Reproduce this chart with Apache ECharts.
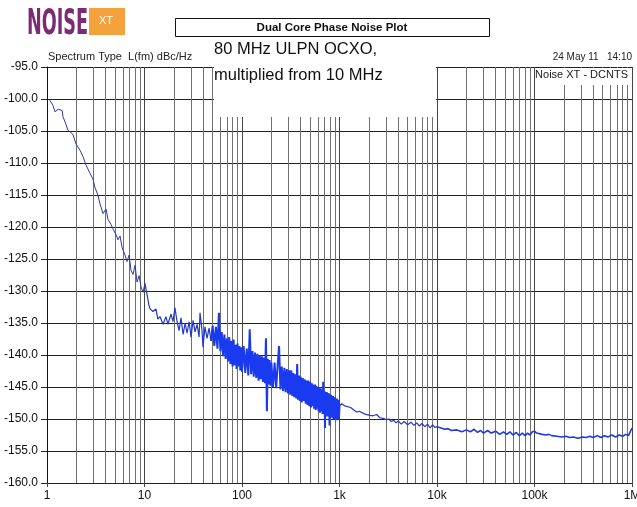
<!DOCTYPE html>
<html>
<head>
<meta charset="utf-8">
<script src="https://cdn.jsdelivr.net/npm/echarts@6/dist/echarts.min.js"></script>
<style>
  html, body { margin: 0; padding: 0; background: #fff; }
  #chart { width: 637px; height: 507px; }
</style>
</head>
<body>
<div id="chart"></div>
<script>
// tick labels
const xTickLabels = ['1', '10', '100', '1k', '10k', '100k', '1M'];
const yMin = -160, yMax = -95, yStep = 5;

// trace, [offset Hz, dBc/Hz]
const trace1to10 = [
  [1.07, -100.2], [1.15, -101.0], [1.21, -102.0], [1.30, -101.6], [1.36, -101.3],
  [1.43, -101.8], [1.46, -102.8], [1.57, -104.0], [1.64, -104.9], [1.76, -105.2],
  [1.85, -105.6], [1.98, -107.0], [2.18, -108.0], [2.34, -109.0], [2.51, -110.3],
  [2.76, -111.6], [2.96, -112.5], [3.10, -113.8], [3.33, -115.0], [3.50, -116.4],
  [3.75, -117.9], [4.03, -117.2], [4.22, -118.8], [4.53, -119.6], [4.75, -120.3],
  [5.10, -121.2], [5.35, -122.0], [5.61, -121.4], [5.89, -123.2], [6.32, -124.4],
  [6.62, -125.4], [6.94, -124.4], [7.28, -126.8], [7.63, -127.4], [8.00, -126.0],
  [8.39, -128.6], [8.80, -127.6], [9.23, -129.4], [9.68, -130.2], [10.1, -128.8]
];
const trace10to50 = [
  [10.6, -130.5], [11.1, -132.2], [11.4, -132.8], [12.2, -133.2], [13.1, -132.8],
  [13.7, -134.4], [14.4, -134.0], [15.5, -135.2], [16.6, -134.0], [17.4, -135.2],
  [18.7, -133.6], [19.6, -134.8], [20.5, -132.6], [21.6, -134.8], [22.6, -136.2],
  [23.7, -134.2], [24.9, -136.8], [26.1, -135.0], [27.3, -136.6], [28.7, -134.8],
  [30.0, -137.2], [31.5, -134.6], [33.0, -136.4], [34.6, -135.2], [36.3, -137.2],
  [37.1, -133.4], [38.9, -136.2], [39.8, -138.8], [41.7, -135.6], [43.8, -137.4],
  [45.9, -135.8], [48.1, -137.8]
];
const trace50to1k = [
  [50, -135.4], [52, -138.6], [54, -135.6], [56, -139.0], [58, -133.4], [60, -139.4],
  [62, -136.4], [64, -140.2], [66, -136.8], [68, -140.6], [70, -137.4], [72, -141.0],
  [74, -137.2], [76, -141.4], [78, -137.8], [80, -141.8], [82, -137.6], [84, -141.6],
  [86, -138.4], [88, -142.2], [90, -138.2], [92, -141.8], [94, -138.6], [96, -142.4],
  [98, -138.8],
  [100, -142.6], [104, -138.6], [108, -142.8], [112, -139.0], [116, -143.2], [120, -136.0],
  [124, -143.0], [128, -139.4], [132, -143.4], [136, -139.6], [140, -143.6], [144, -139.8],
  [148, -144.0], [152, -140.0], [156, -143.8], [160, -140.2], [164, -144.2], [168, -140.4],
  [172, -144.4], [176, -137.4], [180, -148.8], [184, -140.6], [188, -144.6], [192, -140.8],
  [196, -144.8],
  [200, -141.2], [208, -145.0], [216, -141.2], [224, -145.2], [232, -141.6], [240, -138.6],
  [248, -145.4], [256, -141.8], [264, -145.6], [272, -142.0], [280, -145.8], [288, -142.2],
  [296, -146.0], [304, -142.4], [312, -146.2], [320, -142.4], [328, -146.4], [336, -142.8],
  [344, -146.6], [352, -143.0], [360, -146.8], [368, -141.4], [376, -147.0], [384, -143.2],
  [392, -147.2],
  [400, -143.4], [410, -147.4], [420, -143.6], [430, -147.2], [440, -143.8], [450, -147.6],
  [460, -144.0], [470, -147.8], [480, -144.0], [490, -148.0], [500, -144.2], [510, -148.2],
  [520, -144.4], [530, -148.0], [540, -144.6], [550, -148.4], [560, -144.6], [570, -148.6],
  [580, -144.8], [590, -148.4], [600, -145.0], [610, -148.8], [620, -145.0], [630, -149.0],
  [640, -145.2], [650, -148.8], [660, -145.4], [670, -149.2], [680, -144.2], [690, -149.2],
  [700, -145.6], [710, -151.4], [720, -145.8], [730, -149.4], [740, -145.8], [750, -149.6],
  [760, -146.0], [770, -149.4], [780, -146.0], [790, -151.0], [800, -146.2], [810, -149.6],
  [820, -146.2], [830, -149.8], [840, -146.4], [850, -149.8], [860, -146.4], [870, -150.0],
  [880, -146.6], [890, -149.8], [900, -146.6], [910, -150.0], [920, -146.8], [930, -150.2],
  [940, -146.8], [950, -149.8], [960, -147.0], [970, -150.0], [980, -147.0], [990, -149.6],
  [1000, -148.0]
];
const trace1kto10k = [
  [1050, -147.6], [1100, -147.9], [1150, -148.0], [1200, -148.3], [1300, -148.2],
  [1400, -148.6], [1500, -148.9], [1600, -148.8], [1800, -149.2], [2000, -149.4],
  [2200, -149.5], [2400, -149.3], [2600, -149.8], [2800, -149.9], [3000, -150.1],
  [3200, -150.0], [3400, -150.4], [3600, -150.2], [3800, -150.6], [4000, -150.3],
  [4300, -150.8], [4600, -150.4], [5000, -150.9], [5400, -150.5], [5800, -151.0],
  [6200, -150.6], [6600, -151.1], [7000, -150.7], [7500, -151.2], [8000, -150.8],
  [8500, -151.4], [9000, -150.9], [9500, -151.3], [10000, -151.2]
];
const trace10kto1M = [
  [11000, -151.4], [12000, -151.6], [13000, -151.5], [14000, -151.8], [16000, -151.7],
  [18000, -152.0], [20000, -151.7], [22000, -152.0], [24000, -151.6], [26000, -152.1],
  [28000, -151.8], [30000, -152.2], [33000, -151.8], [36000, -152.2], [40000, -151.9],
  [44000, -152.4], [48000, -152.0], [52000, -152.4], [56000, -152.0], [60000, -152.5],
  [65000, -152.1], [70000, -152.6], [75000, -152.2], [80000, -152.6], [85000, -152.2],
  [90000, -152.5], [95000, -152.0], [100000, -151.9], [105000, -152.2],
  [110000, -152.3], [120000, -152.4], [130000, -152.5], [140000, -152.4], [150000, -152.6],
  [170000, -152.7], [190000, -152.8], [210000, -152.7], [230000, -152.9], [250000, -152.8],
  [280000, -153.0], [310000, -152.8], [340000, -152.9], [370000, -152.7], [400000, -152.9],
  [440000, -152.6], [480000, -152.9], [520000, -152.6], [570000, -152.8], [620000, -152.5],
  [680000, -152.8], [740000, -152.5], [800000, -152.7], [860000, -152.4], [920000, -152.6],
  [960000, -152.3], [1000000, -151.4]
];

const chart = echarts.init(document.getElementById('chart'));

const labelFont = 'Liberation Sans';

// one line piece per segment, each joined to the end of the previous one
function piece(prev, seg, width, color) {
  return {
    type: 'line',
    data: prev ? [prev[prev.length - 1]].concat(seg) : seg,
    showSymbol: false,
    symbol: 'none',
    z: 3,
    lineStyle: { color: color, width: width }
  };
}

const option = {
  animation: false,
  backgroundColor: '#fff',
  grid: { left: 47, right: 5, top: 67, bottom: 24, containLabel: false, outerBoundsMode: 'none' },
  xAxis: {
    type: 'log',
    logBase: 10,
    min: 1,
    max: 1e6,
    splitNumber: 6,
    axisLine: { show: true, onZero: false, lineStyle: { color: '#222', width: 1 } },
    axisTick: { show: true, length: 4, lineStyle: { color: '#444' } },
    axisLabel: {
      margin: 7,
      color: '#111',
      fontFamily: labelFont,
      fontSize: 12,
      formatter: function (v) {
        return xTickLabels[Math.round(Math.log10(v))];
      }
    },
    splitLine: { show: true, lineStyle: { color: '#444', width: 1 } },
    minorTick: { show: false, splitNumber: 9 },
    minorSplitLine: { show: true, lineStyle: { color: '#707070', width: 1 } }
  },
  yAxis: {
    type: 'value',
    min: yMin,
    max: yMax,
    interval: yStep,
    axisLine: { show: true, onZero: false, lineStyle: { color: '#111', width: 1 } },
    axisTick: { show: true, length: 6, lineStyle: { color: '#222' } },
    axisLabel: {
      margin: 9,
      color: '#111',
      fontFamily: labelFont,
      fontSize: 12,
      formatter: function (v) { return v.toFixed(1); }
    },
    splitLine: { show: true, lineStyle: { color: '#222', width: 1 } }
  },
  series: [
    piece(null, trace1to10, 1, '#2b3a9e'),
    piece(trace1to10, trace10to50, 1.2, '#2238c8'),
    piece(trace10to50, trace50to1k, 2, '#1a3af0'),
    piece(trace50to1k, trace1kto10k, 1.2, '#2238c8'),
    piece(trace1kto10k, trace10kto1M, 1.6, '#1f3ade')
  ],
  graphic: [
    // white boxes that hide the grid behind the notes
    { type: 'rect', z: 50, shape: { x: 214, y: 38, width: 222, height: 79 }, style: { fill: '#fff' } },
    { type: 'rect', z: 50, shape: { x: 536, y: 68, width: 95, height: 17 }, style: { fill: '#fff' } },
    // logo
    {
      type: 'text', z: 60, x: 27, y: 7, scaleX: 0.49,
      style: { text: 'NOISE', font: 'bold 36px "DejaVu Sans"', fill: '#7c2a72', textAlign: 'left', textVerticalAlign: 'top' }
    },
    { type: 'rect', z: 60, shape: { x: 89, y: 8, width: 36, height: 27 }, style: { fill: '#f3a23c' } },
    {
      type: 'text', z: 61, x: 99, y: 15,
      style: { text: 'XT', font: '11px "Liberation Sans"', fill: '#fff', textAlign: 'left', textVerticalAlign: 'top' }
    },
    // title box
    { type: 'rect', z: 60, shape: { x: 175.5, y: 18.5, width: 314, height: 18 }, style: { fill: '#fff', stroke: '#111', lineWidth: 1 } },
    {
      type: 'text', z: 61, x: 332, y: 28,
      style: { text: 'Dual Core Phase Noise Plot', font: 'bold 11.5px "Liberation Sans"', fill: '#111', textAlign: 'center', textVerticalAlign: 'middle' }
    },
    {
      type: 'text', z: 60, x: 48, y: 57,
      style: { text: 'Spectrum Type  L(fm) dBc/Hz', font: '11px "Liberation Sans"', fill: '#222', textAlign: 'left', textVerticalAlign: 'middle' }
    },
    {
      type: 'text', z: 60, x: 632, y: 57,
      style: { text: '24 May 11   14:10', font: '10px "Liberation Sans"', fill: '#222', textAlign: 'right', textVerticalAlign: 'middle' }
    },
    {
      type: 'text', z: 60, x: 214, y: 49,
      style: { text: '80 MHz ULPN OCXO,', font: '16.5px "Liberation Sans"', fill: '#111', textAlign: 'left', textVerticalAlign: 'middle' }
    },
    {
      type: 'text', z: 60, x: 214, y: 75,
      style: { text: 'multiplied from 10 MHz', font: '16.5px "Liberation Sans"', fill: '#111', textAlign: 'left', textVerticalAlign: 'middle' }
    },
    {
      type: 'text', z: 60, x: 628, y: 75,
      style: { text: 'Noise XT - DCNTS', font: '11px "Liberation Sans"', fill: '#222', textAlign: 'right', textVerticalAlign: 'middle' }
    }
  ]
};

chart.setOption(option);
</script>
</body>
</html>
